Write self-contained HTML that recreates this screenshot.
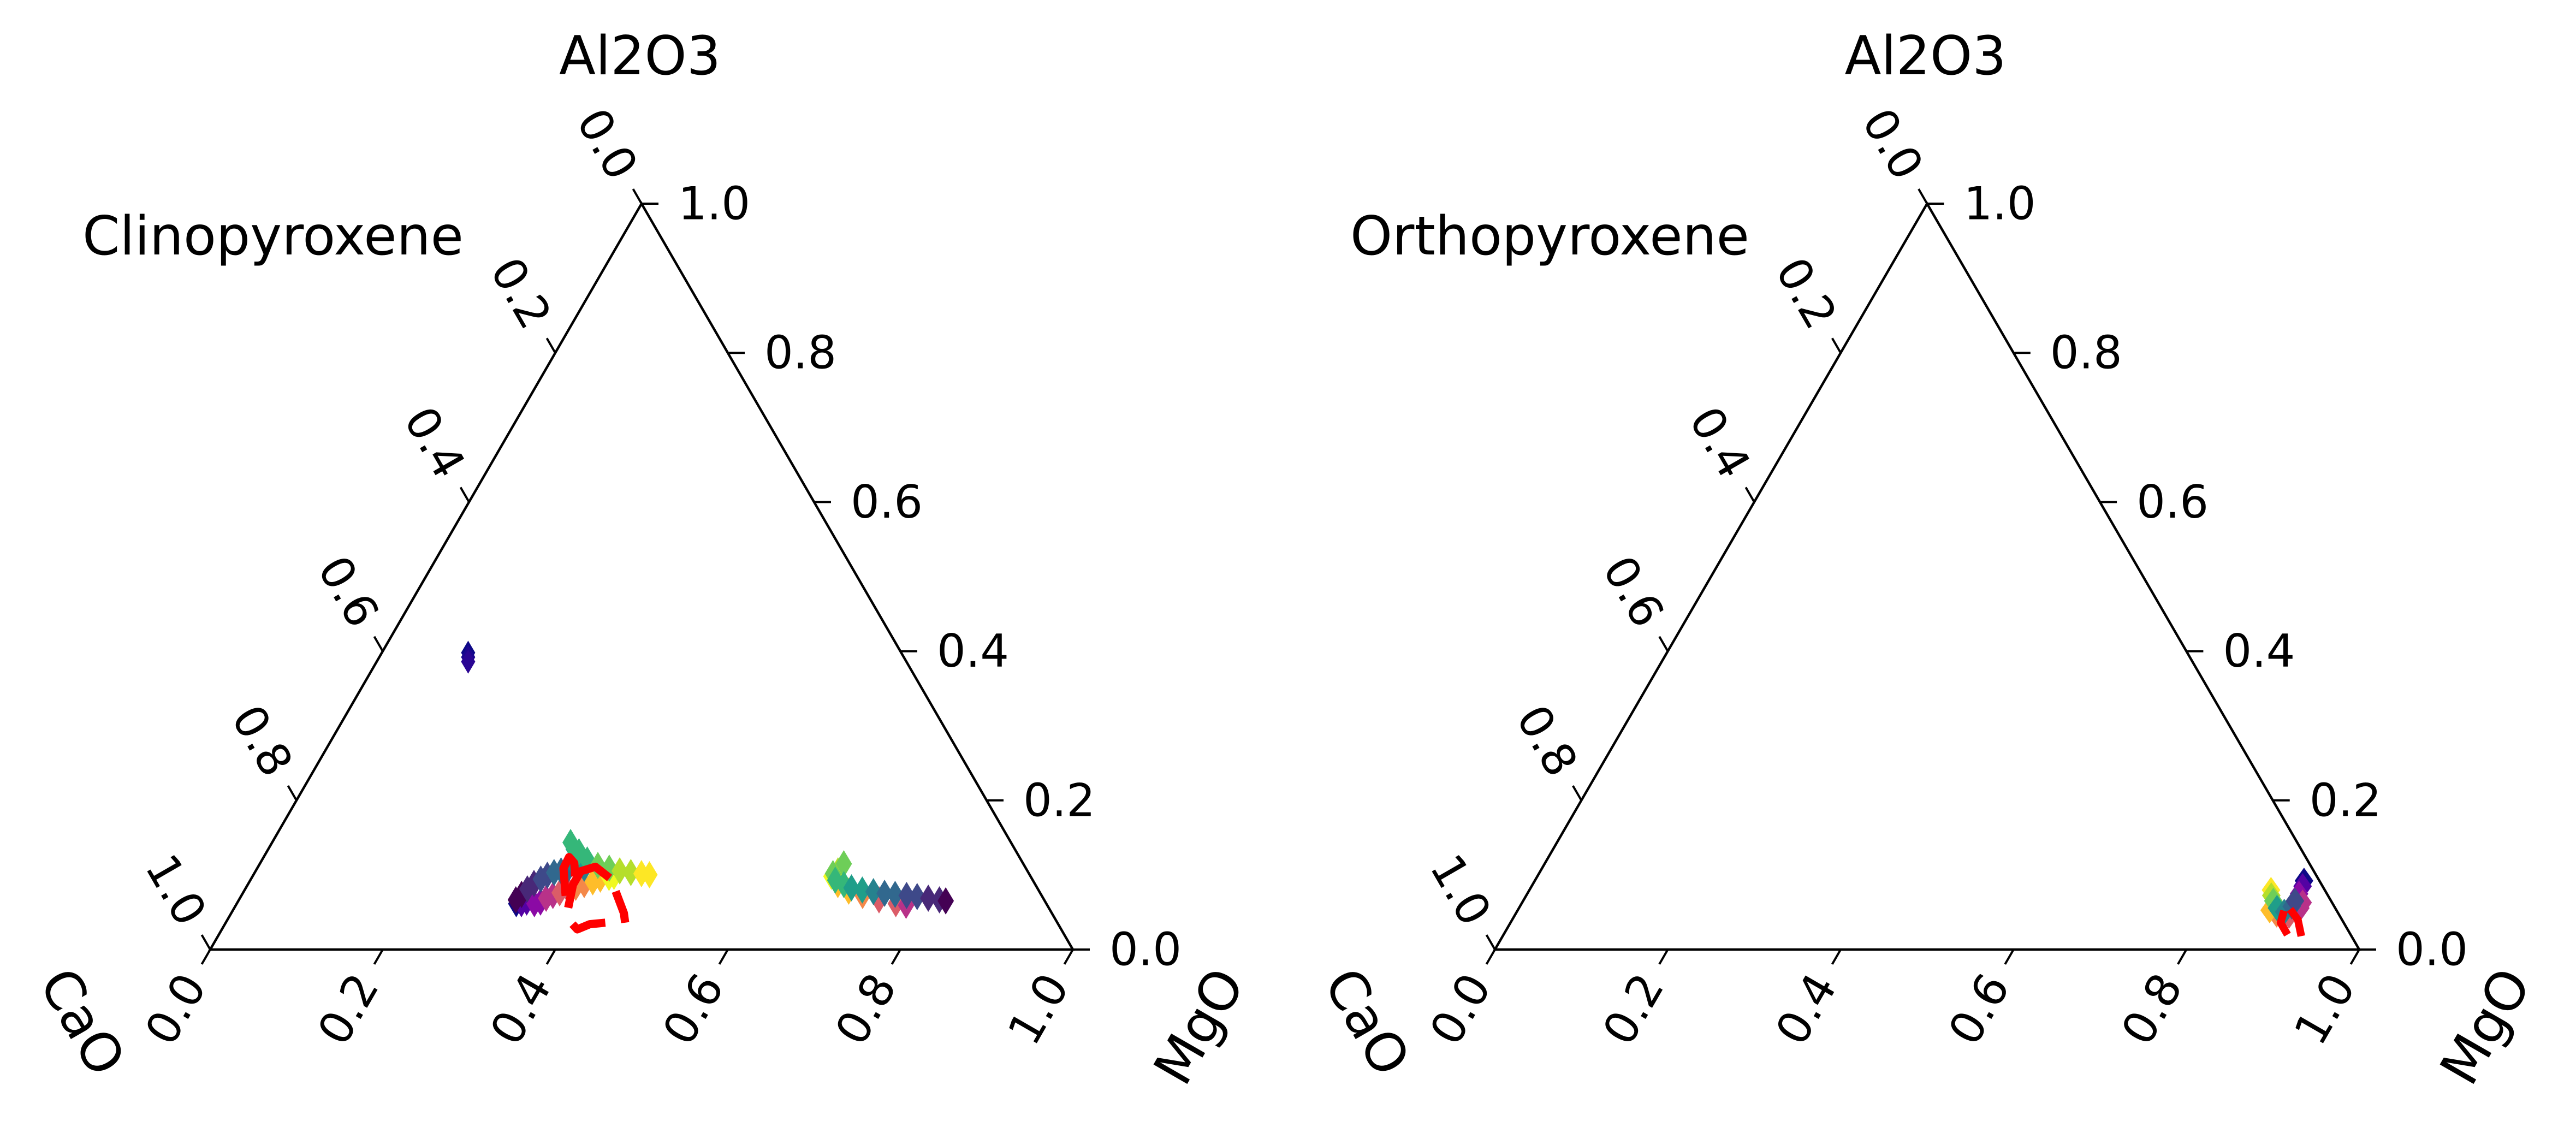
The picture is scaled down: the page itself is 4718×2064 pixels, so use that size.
<!DOCTYPE html>
<html><head><meta charset="utf-8"><style>
html,body{margin:0;padding:0;background:#fff;}
svg{display:block;}
text{font-family:"DejaVu Sans","Liberation Sans",sans-serif;fill:#000;}
</style></head><body>
<svg id="chart" width="4718" height="2064" viewBox="0 0 4718 2064" xmlns="http://www.w3.org/2000/svg">
<rect width="4718" height="2064" fill="#fff"/>
<g id="cpx"></g>
<g id="opx"></g>
</svg>
<script>
// data: ternary coordinates, a = Al2O3 fraction, b = MgO fraction
const tickValues = [0.0, 0.2, 0.4, 0.6, 0.8, 1.0];
const tickLabels = ["0.0", "0.2", "0.4", "0.6", "0.8", "1.0"];

const cpxPlasma1A = [0.0615,0.0615,0.0637,0.0615,0.0637,0.0688,0.0725,0.0761,0.0798,0.0835,0.0871,0.0908,0.0944,0.0966,0.0981];
const cpxPlasma1B = [0.324,0.330,0.335,0.345,0.351,0.355,0.361,0.367,0.375,0.382,0.390,0.398,0.405,0.414,0.419];
const cpxViridis1A = [0.0666,0.0739,0.0813,0.0886,0.0944,0.0996,0.1032,0.1054,0.1076,0.1091,0.1091,0.1223,0.1347,0.1435,0.1310,0.1201,0.1127,0.1091,0.1054,0.1032,0.1018,0.1003];
const cpxViridis1B = [0.321,0.324,0.327,0.331,0.336,0.341,0.347,0.354,0.361,0.370,0.379,0.367,0.354,0.346,0.362,0.377,0.393,0.408,0.422,0.436,0.449,0.459];
const cpxPlasma2A = [0.0981,0.0871,0.0783,0.0725,0.0666,0.0615,0.0593];
const cpxPlasma2B = [0.671,0.684,0.701,0.720,0.742,0.764,0.777];
const cpxViridis2A = [0.1054,0.1149,0.1018,0.0930,0.0871,0.0827,0.0798,0.0776,0.0754,0.0739,0.0725,0.0710,0.0688,0.0666,0.0652];
const cpxViridis2B = [0.675,0.677,0.671,0.678,0.691,0.702,0.716,0.730,0.744,0.757,0.771,0.784,0.798,0.812,0.820];
const cpxOutlierA = [0.398, 0.392, 0.386];
const cpxOutlierB = [0.100, 0.103, 0.106];
const cpxRedAa = [0.072,0.109,0.124,0.116,0.098];
const cpxRedAb = [0.376,0.355,0.354,0.364,0.374];
const cpxRedBa = [0.056,0.087,0.105,0.111,0.096];
const cpxRedBb = [0.387,0.377,0.377,0.391,0.415];
const cpxRedCa = [0.078,0.049,0.036];
const cpxRedCb = [0.431,0.455,0.463];
const cpxRedDa = [0.036,0.034,0.027,0.034];
const cpxRedDb = [0.440,0.423,0.412,0.403];

const opxViridisA = [0.0798,0.0725,0.0652,0.0556,0.0505,0.0578,0.0652];
const opxViridisB = [0.858,0.862,0.868,0.877,0.888,0.893,0.893];
const opxPlasmaA = [0.0922,0.0849,0.0747,0.0630,0.0556,0.0454,0.0469,0.0527];
const opxPlasmaB = [0.890,0.892,0.893,0.903,0.904,0.896,0.881,0.870];
const opxRed1A = [0.052, 0.036, 0.020];
const opxRed1B = [0.887, 0.891, 0.907];
const opxRed2A = [0.054, 0.040, 0.018];
const opxRed2B = [0.893, 0.909, 0.924];

const viridisC = ["#fde725","#b5de2b","#6ece58","#35b779","#1f9e89","#26828e","#31688e","#3e4989","#482878","#440154"];
const plasmaC = ["#0d0887","#5302a3","#8b0aa5","#b83289","#db5c68","#f48849","#febd2a","#f0f921"];

const NS = "http://www.w3.org/2000/svg";
function mk(tag, attrs, parent){ const e=document.createElementNS(NS,tag); for(const k in attrs) e.setAttribute(k,attrs[k]); parent.appendChild(e); return e; }
function pick(arr, t){ const i=Math.min(arr.length-1, Math.round(t*(arr.length-1))); return arr[i]; }

function panel(g, ox, oy, W, H, title, titleX){
  const X = (a,b)=> ox + (b + a/2)*W;
  const Y = (a)=> oy - a*H;
  const ax = {X, Y};
  const edges = mk('path',{d:`M${ox},${oy} L${ox+W},${oy} L${ox+W/2},${oy-H} Z`,fill:'none',stroke:'#000','stroke-width':4.5,'stroke-linejoin':'miter'},g);
  
  
  const tl=31, off=126;
  tickValues.forEach((v,i)=>{
    let bx=ox+v*W, by=oy;
    let t=mk('line',{x1:bx,y1:by,x2:bx-0.5*tl,y2:by+0.866*tl,stroke:'#000','stroke-width':4},g);
    
    
    let lx=bx-0.5*off, ly=by+0.866*off;
    let tx=mk('text',{x:lx,y:ly,'font-size':83,'text-anchor':'middle','dominant-baseline':'central',transform:`rotate(-60 ${lx} ${ly})`},g);
    tx.textContent=tickLabels[i];
    
    
    let rx=ox+W-v*W/2, ry=oy-v*H;
    t=mk('line',{x1:rx,y1:ry,x2:rx+tl,y2:ry,stroke:'#000','stroke-width':4},g);
    
    
    tx=mk('text',{x:rx+67,y:ry,'font-size':83,'dominant-baseline':'central'},g);
    tx.textContent=tickLabels[i];
    
    
    let qx=ox+W/2-v*W/2, qy=oy-H+v*H;
    t=mk('line',{x1:qx,y1:qy,x2:qx-0.5*tl,y2:qy-0.866*tl,stroke:'#000','stroke-width':4},g);
    
    
    let mx=qx-0.5*off, my=qy-0.866*off;
    tx=mk('text',{x:mx,y:my,'font-size':83,'text-anchor':'middle','dominant-baseline':'central',transform:`rotate(60 ${mx} ${my})`},g);
    tx.textContent=tickLabels[i];
    
    
  });
  let tt=mk('text',{x:ox+W/2-3,y:136,'font-size':98,'text-anchor':'middle'},g);
  tt.textContent='Al2O3';
  
  
  let cx=ox-235, cy=oy+133;
  tt=mk('text',{x:cx,y:cy,'font-size':98,'text-anchor':'middle','dominant-baseline':'central',transform:`rotate(60 ${cx} ${cy})`},g);
  tt.textContent='CaO';
  
  
  cx=ox+W+232; cy=oy+141;
  tt=mk('text',{x:cx,y:cy,'font-size':98,'text-anchor':'middle','dominant-baseline':'central',transform:`rotate(-60 ${cx} ${cy})`},g);
  tt.textContent='MgO';
  
  
  tt=mk('text',{x:titleX,y:466,'font-size':98},g);
  tt.textContent=title;
  
  
  return ax;
}

function diamonds(g, ax, A, B, cmap, name, hw, hh){
  A.forEach((a,i)=>{
    const t = A.length>1 ? i/(A.length-1) : 0;
    const x=ax.X(a,B[i]), y=ax.Y(a);
    const d=mk('path',{d:`M${x},${y-hh} L${x+hw},${y} L${x},${y+hh} L${x-hw},${y} Z`,fill:pick(cmap,t)},g);
    
    
  });
}
function redline(g, ax, A, B, w, name){
  const d=A.map((a,i)=>(i?'L':'M')+ax.X(a,B[i]).toFixed(1)+','+ax.Y(a).toFixed(1)).join(' ');
  const p=mk('path',{d:d,fill:'none',stroke:'#ff0000','stroke-width':w,'stroke-linecap':'butt','stroke-linejoin':'round'},g);
  
  
}

const g1=document.getElementById('cpx');
const a1=panel(g1,385,1739,1580,1366,'Clinopyroxene',151);
diamonds(g1,a1,cpxPlasma1A,cpxPlasma1B,plasmaC,'cpx-plasma-marker',15,25);
diamonds(g1,a1,cpxViridis1A,cpxViridis1B,viridisC.slice().reverse(),'cpx-viridis-marker',15,25);
diamonds(g1,a1,cpxPlasma2A,cpxPlasma2B,plasmaC.slice(3).reverse(),'cpx-plasma-marker',15,25);
diamonds(g1,a1,cpxViridis2A,cpxViridis2B,viridisC.slice(1),'cpx-viridis-marker',15,25);
diamonds(g1,a1,cpxOutlierA,cpxOutlierB,["#0d0887","#1c068f","#2a0593"],'cpx-outlier-marker',13,22);
redline(g1,a1,cpxRedAa,cpxRedAb,15,'cpx-red-dashed-line');
redline(g1,a1,cpxRedBa,cpxRedBb,15,'cpx-red-dashed-line');
redline(g1,a1,cpxRedCa,cpxRedCb,15,'cpx-red-dashed-line');
redline(g1,a1,cpxRedDa,cpxRedDb,15,'cpx-red-dashed-line');

const g2=document.getElementById('opx');
const a2=panel(g2,2738,1739,1583,1366,'Orthopyroxene',2473);
diamonds(g2,a2,opxPlasmaA,opxPlasmaB,plasmaC.slice(0,7),'opx-plasma-marker',17,24);
diamonds(g2,a2,opxViridisA,opxViridisB,viridisC.slice(0,8),'opx-viridis-marker',17,24);
redline(g2,a2,opxRed1A,opxRed1B,14,'opx-red-line');
redline(g2,a2,opxRed2A,opxRed2B,14,'opx-red-line');
</script>
</body></html>
